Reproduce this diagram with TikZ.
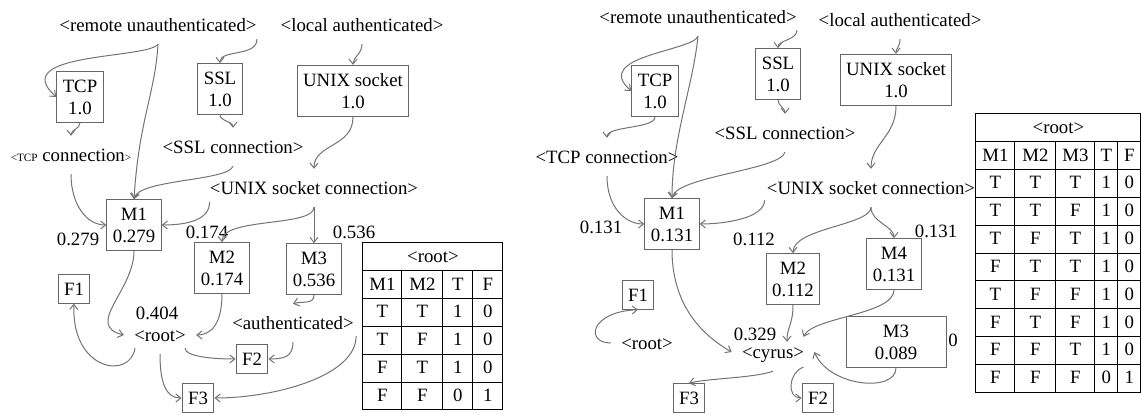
\documentclass[tikz,border=0pt]{standalone}
\usepackage{fontspec}
\setmainfont{Liberation Serif}
\usepackage{array}
\usepackage{tikz}
\usetikzlibrary{arrows.meta,calc}
\newcolumntype{C}[1]{>{\centering\arraybackslash}p{#1}}
\newcommand\tinypart[1]{{\fontsize{5.6}{6}\selectfont #1}}
\setlength{\tabcolsep}{0pt}
\setlength{\arrayrulewidth}{0.5pt}
\renewcommand{\arraystretch}{1.22}

\begin{document}
\begin{tikzpicture}[x=0.5pt,y=-0.5pt,font=\fontsize{9.4}{11}\selectfont,
  >={Straight Barb[length=2.5pt,width=4pt]},
  lbl/.style={inner xsep=5pt,inner ysep=6pt,text height=6.6pt,text depth=0.2pt},
  blk/.style={draw=black!60,line width=0.5pt,align=center,inner xsep=3pt,inner ysep=4pt},
  wire/.style={->,draw=black!55,line width=0.5pt},
  tbl/.style={inner sep=0pt,anchor=north west}]
\useasboundingbox (0,0) rectangle (1141,415);

\node[lbl] (lru) at (158,25) {<remote unauthenticated>};
\node[lbl] (lla) at (362,25) {<local authenticated>};
\node[blk] (ltcp) at (80,97) {TCP\\1.0};
\node[blk] (lssl) at (220,89) {SSL\\1.0};
\node[blk] (lunix) at (353,91) {UNIX socket\\1.0};
\node[lbl] (ltcpc) at (71,155) {\tinypart{<TCP} connection\tinypart{>}};
\node[lbl] (lsslc) at (233,147) {<SSL connection>};
\node[lbl] (lunixc) at (314,188) {<UNIX socket connection>};
\node[blk] (lm1) at (134,225) {M1\\0.279};
\node[lbl] (lp1) at (78,239) {0.279};
\node[lbl] (lp2) at (207,232) {0.174};
\node[lbl] (lp3) at (354,232) {0.536};
\node[blk] (lm2) at (222,268) {M2\\0.174};
\node[blk] (lm3) at (314,269) {M3\\0.536};
\node[blk] (lf1) at (74,289) {F1};
\node[lbl] (lp0) at (157,313) {0.404};
\node[lbl] (lroot) at (160,335) {<root>};
\node[lbl] (lauth) at (293,323) {<authenticated>};
\node[blk] (lf2) at (252,359) {F2};
\node[blk] (lf3) at (198,398) {F3};
\node[tbl] (ltab) at (362,242) {\begin{tabular}{|C{19pt}|C{20pt}|C{14.5pt}|C{14.5pt}|}\hline
\multicolumn{4}{|c|}{<root>}\\\hline
M1&M2&T&F\\\hline
T&T&1&0\\\hline
T&F&1&0\\\hline
F&T&1&0\\\hline
F&F&0&1\\\hline
\end{tabular}};

\draw[wire] (lru.south) .. controls +(-10,15) and +(-50,-45) .. (ltcp.west);
\draw[wire] (lru.south) .. controls +(-3,50) and +(5,-80) .. (lm1.north);
\draw[wire] ($(lru.south east)+(-10,-5)$) .. controls +(0,18) and +(0,-14) .. (lssl.north);
\draw[wire] (lla.south) .. controls +(0,10) and +(0,-8) .. (lunix.north);
\draw[wire] (ltcp.south) .. controls +(0,6) and +(0,-6) .. (ltcpc.north);
\draw[wire] (lssl.south) .. controls +(0,6) and +(0,-6) .. (lsslc.north);
\draw[wire] (lunix.south) .. controls +(0,30) and +(0,-25) .. (lunixc.north);
\draw[wire] (lsslc.south) .. controls +(-5,15) and +(5,-20) .. (lm1.north);
\draw[wire] (ltcpc.south) .. controls +(0,30) and +(-20,0) .. (lm1.west);
\draw[wire] ($(lunixc.south west)+(10,-5)$) .. controls +(0,18) and +(25,0) .. (lm1.east);
\draw[wire] (lunixc.south) .. controls +(0,20) and +(0,-25) .. (lm2.north);
\draw[wire] (lunixc.south) -- (lm3.north);
\draw[wire] (lm1.south) .. controls +(0,40) and +(-40,-10) .. (lroot.west);
\draw[wire] (lm2.south) .. controls +(0,30) and +(15,0) .. (lroot.east);
\draw[wire] ($(lroot.south)+(-25,-6)$) .. controls +(-5,32) and +(-3,67) .. (lf1.south);
\draw[wire] ($(lroot.south)+(25,-6)$) .. controls +(0,8) and +(-25,0) .. (lf2.west);
\draw[wire] (lroot.south) .. controls +(0,30) and +(-15,0) .. (lf3.west);
\draw[wire] (lm3.south) .. controls +(0,10) and +(10,-3) .. (lauth.north);
\draw[wire] (lauth.south) .. controls +(0,15) and +(15,0) .. (lf2.east);
\draw[wire] ($(lauth.south east)+(-8,-6)$) .. controls +(0,40) and +(60,0) .. (lf3.east);

\node[lbl] (rru) at (698,17) {<remote unauthenticated>};
\node[lbl] (rla) at (900,20) {<local authenticated>};
\node[blk] (rtcp) at (655,91) {TCP\\1.0};
\node[blk] (rssl) at (778,74) {SSL\\1.0};
\node[blk] (runix) at (896,80) {UNIX socket\\1.0};
\node[lbl] (rsslc) at (785,133) {<SSL connection>};
\node[lbl] (rtcpc) at (607,157) {<TCP connection>};
\node[lbl] (runixc) at (871,188) {<UNIX socket connection>};
\node[blk] (rm1) at (672,224) {M1\\0.131};
\node[lbl] (rp1) at (601,227) {0.131};
\node[lbl] (rp2) at (754,239) {0.112};
\node[blk] (rm2) at (793,279) {M2\\0.112};
\node[blk] (rm4) at (894,264) {M4\\0.131};
\node[lbl] (rp4) at (936,231) {0.131};
\node[blk,minimum width=50pt,minimum height=25pt] (rm3) at (896,342) {M3\\0.089};
\node[lbl] (rp3) at (953,340) {0};
\node[blk] (rf1) at (638,295) {F1};
\node[lbl] (rroot) at (647,343) {<root>};
\node[lbl] (rp0) at (755,334) {0.329};
\node[lbl] (rcyrus) at (773,352) {<cyrus>};
\node[blk] (rf3) at (689,398) {F3};
\node[blk] (rf2) at (818,398) {F2};
\node[tbl] (rtab) at (975,113) {\begin{tabular}{|C{19pt}|C{20pt}|C{19pt}|C{11pt}|C{11pt}|}\hline
\multicolumn{5}{|c|}{<root>}\\\hline
M1&M2&M3&T&F\\\hline
T&T&T&1&0\\\hline
T&T&F&1&0\\\hline
T&F&T&1&0\\\hline
F&T&T&1&0\\\hline
T&F&F&1&0\\\hline
F&T&F&1&0\\\hline
F&F&T&1&0\\\hline
F&F&F&0&1\\\hline
\end{tabular}};

\draw[wire] (rru.south) .. controls +(-5,15) and +(-40,-35) .. (rtcp.west);
\draw[wire] (rru.south) .. controls +(-5,50) and +(0,-60) .. (rm1.north);
\draw[wire] ($(rru.south east)+(-10,-6)$) .. controls +(0,10) and +(0,-8) .. (rssl.north);
\draw[wire] (rla.south) .. controls +(0,8) and +(0,-6) .. (runix.north);
\draw[wire] (rssl.south) .. controls +(0,6) and +(0,-6) .. (rsslc.north);
\draw[wire] (rtcp.south) .. controls +(0,12) and +(0,-12) .. (rtcpc.north);
\draw[wire] (rsslc.south) .. controls +(-5,18) and +(5,-22) .. (rm1.north);
\draw[wire] (rtcpc.south) .. controls +(0,30) and +(-20,0) .. (rm1.west);
\draw[wire] (runix.south) .. controls +(0,30) and +(0,-25) .. (runixc.north);
\draw[wire] ($(runixc.south west)+(8,-7)$) .. controls +(0,18) and +(25,0) .. (rm1.east);
\draw[wire] (runixc.south) .. controls +(0,18) and +(0,-25) .. (rm2.north);
\draw[wire] (runixc.south) .. controls +(0,15) and +(0,-12) .. (rm4.north);
\draw[wire] (rm1.south) .. controls +(0,50) and +(-35,-20) .. (rcyrus.west);
\draw[wire] (rm2.south) .. controls +(0,20) and +(0,-15) .. ($(rcyrus.north)+(14,9)$);
\draw[wire] (rm4.south) .. controls +(0,25) and +(10,-20) .. ($(rcyrus.north east)+(-11,4)$);
\draw[wire] (rm3.south) .. controls +(0,25) and +(15,35) .. (rcyrus.east);
\draw[wire] (rcyrus.south) .. controls +(-20,7) and +(20,-5) .. (rf3.north);
\draw[wire] ($(rcyrus.south east)+(-11,-4)$) .. controls +(-15,5) and +(-15,0) .. (rf2.west);
\draw[wire] (rroot.west) .. controls +(-26,0) and +(-48,2) .. (rf1.south);
\end{tikzpicture}
\end{document}
